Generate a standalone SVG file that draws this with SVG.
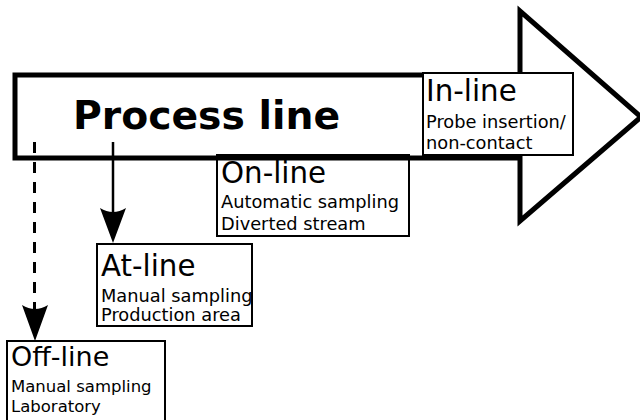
<svg xmlns="http://www.w3.org/2000/svg" width="640" height="420" viewBox="0 0 640 420">
  <style>
    .box { fill: #fff; stroke: #000; stroke-width: 2; }
    .title { font-family: "DejaVu Sans", "Liberation Sans", sans-serif; font-size: 29.3px; fill: #000; }
    .sub { font-family: "DejaVu Sans", "Liberation Sans", sans-serif; font-size: 17.8px; fill: #000; }
    .small .title { font-size: 27px; }
    .small .sub { font-size: 16.5px; }
    .head { fill: #000; stroke: none; }
  </style>
  <rect width="640" height="420" fill="#fff"/>

  <!-- On-line sits under the process arrow's lower edge -->
  <g id="on-line">
    <rect class="box" x="217" y="155" width="192" height="81"/>
    <text class="title" x="221" y="183">On-line</text>
    <text class="sub" x="221" y="208">Automatic sampling</text>
    <text class="sub" x="221" y="230">Diverted stream</text>
  </g>

  <!-- the big process arrow -->
  <g id="process-line">
    <path d="M15,75 L520,75 L520,11 L641,117 L520,221 L520,158 L15,158 Z" fill="none" stroke="#000" stroke-width="5" stroke-linejoin="miter"/>
    <text x="73" y="129" font-family="DejaVu Sans, Liberation Sans, sans-serif" font-weight="bold" font-size="39.3">Process line</text>
  </g>

  <g id="in-line">
    <rect class="box" x="423" y="73" width="150" height="82" stroke-width="1.5"/>
    <text class="title" x="426" y="101">In-line</text>
    <text class="sub" x="426" y="128">Probe insertion/</text>
    <text class="sub" x="426" y="149">non-contact</text>
  </g>

  <g id="at-line">
    <rect class="box" x="97" y="244" width="155" height="82"/>
    <text class="title" x="101" y="276">At-line</text>
    <text class="sub" x="101" y="302">Manual sampling</text>
    <text class="sub" x="101" y="321">Production area</text>
  </g>

  <g id="off-line" class="small">
    <rect class="box" x="7" y="341" width="158" height="90"/>
    <text class="title" x="11" y="366">Off-line</text>
    <text class="sub" x="11" y="392">Manual sampling</text>
    <text class="sub" x="11" y="412">Laboratory</text>
  </g>

  <g id="connectors">
    <!-- at-line: solid -->
    <line x1="113" y1="142" x2="113" y2="214" stroke="#000" stroke-width="2.5"/>
    <path class="head" d="M113,243 L100,208 Q113,216 126,208 Z"/>
    <!-- off-line: dashed -->
    <line x1="34.5" y1="142" x2="34.5" y2="310" stroke="#000" stroke-width="3" stroke-dasharray="11,9"/>
    <path class="head" d="M35,341 L22,305 Q35,313 48,305 Z"/>
  </g>
</svg>
